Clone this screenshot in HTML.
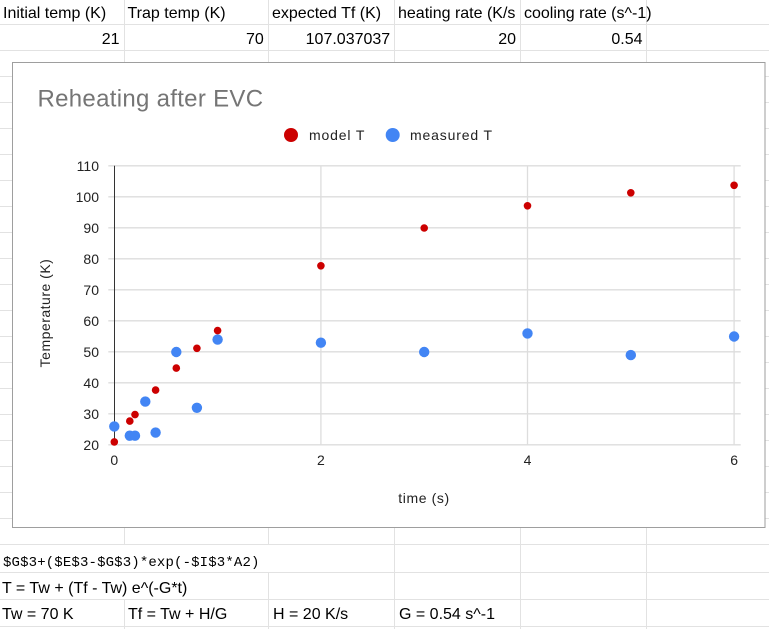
<!DOCTYPE html>
<html>
<head>
<meta charset="utf-8">
<style>
  html, body { margin:0; padding:0; background:#ffffff; }
  body { width:769px; height:629px; overflow:hidden; }
  svg { display:block; }
  .cell { font-family:"Liberation Sans", Arial, sans-serif; font-size:16px; fill:#000; }
  .mono { font-family:"Liberation Mono", monospace; font-size:14px; fill:#000; letter-spacing:0.15px; }
  .tick { font-family:"Liberation Sans", Arial, sans-serif; font-size:14px; fill:#222; }
  .leg { font-family:"Liberation Sans", Arial, sans-serif; font-size:14px; fill:#222; letter-spacing:0.85px; }
</style>
</head>
<body>
<svg width="769" height="629" viewBox="0 0 769 629" xmlns="http://www.w3.org/2000/svg">
  <rect x="0" y="0" width="769" height="629" fill="#ffffff"/>

  <!-- sheet grid: rows -->
  <g stroke="#e2e2e2" stroke-width="1">
    <line x1="0" y1="24.5" x2="769" y2="24.5"/>
    <line x1="0" y1="50.5" x2="769" y2="50.5"/>
    <line x1="0" y1="76.5" x2="769" y2="76.5"/>
    <line x1="0" y1="102.5" x2="769" y2="102.5"/>
    <line x1="0" y1="128.5" x2="769" y2="128.5"/>
    <line x1="0" y1="154.5" x2="769" y2="154.5"/>
    <line x1="0" y1="180.5" x2="769" y2="180.5"/>
    <line x1="0" y1="206.5" x2="769" y2="206.5"/>
    <line x1="0" y1="232.5" x2="769" y2="232.5"/>
    <line x1="0" y1="258.5" x2="769" y2="258.5"/>
    <line x1="0" y1="284.5" x2="769" y2="284.5"/>
    <line x1="0" y1="310.5" x2="769" y2="310.5"/>
    <line x1="0" y1="336.5" x2="769" y2="336.5"/>
    <line x1="0" y1="362.5" x2="769" y2="362.5"/>
    <line x1="0" y1="388.5" x2="769" y2="388.5"/>
    <line x1="0" y1="414.5" x2="769" y2="414.5"/>
    <line x1="0" y1="440.5" x2="769" y2="440.5"/>
    <line x1="0" y1="466.5" x2="769" y2="466.5"/>
    <line x1="0" y1="492.5" x2="769" y2="492.5"/>
    <line x1="0" y1="518.5" x2="769" y2="518.5"/>
    <line x1="0" y1="544.5" x2="769" y2="544.5"/>
    <line x1="0" y1="572.5" x2="769" y2="572.5"/>
    <line x1="0" y1="599.5" x2="769" y2="599.5"/>
    <line x1="0" y1="626.5" x2="769" y2="626.5"/>
  </g>
  <!-- sheet grid: columns -->
  <g stroke="#e2e2e2" stroke-width="1">
    <line x1="124.5" y1="0" x2="124.5" y2="629"/>
    <line x1="268.5" y1="0" x2="268.5" y2="629"/>
    <line x1="394.5" y1="0" x2="394.5" y2="629"/>
    <line x1="520.5" y1="0" x2="520.5" y2="629"/>
    <line x1="646.5" y1="0" x2="646.5" y2="629"/>
  </g>

  <!-- header row -->
  <defs>
    <clipPath id="c4"><rect x="394" y="0" width="126" height="24"/></clipPath>
  </defs>
  <text class="cell" x="3" y="18">Initial temp (K)</text>
  <text class="cell" x="127.5" y="18">Trap temp (K)</text>
  <text class="cell" x="272" y="18">expected Tf (K)</text>
  <text class="cell" x="398" y="18" clip-path="url(#c4)">heating rate (K/s</text>
  <text class="cell" x="524" y="18">cooling rate (s^-1)</text>

  <!-- value row -->
  <text class="cell" x="119.5" y="44" text-anchor="end">21</text>
  <text class="cell" x="263.8" y="44" text-anchor="end">70</text>
  <text class="cell" x="390.2" y="44" text-anchor="end">107.037037</text>
  <text class="cell" x="516" y="44" text-anchor="end">20</text>
  <text class="cell" x="642.5" y="44" text-anchor="end">0.54</text>

  <!-- bottom rows -->
  <rect x="0" y="545" width="394" height="27" fill="#ffffff"/>
  <line x1="394.5" y1="545" x2="394.5" y2="572" stroke="#e2e2e2"/>
  <text class="mono" x="3" y="566">$G$3+($E$3-$G$3)*exp(-$I$3*A2)</text>
  <rect x="0" y="573" width="268" height="26" fill="#ffffff"/>
  <text class="cell" x="2" y="593">T = Tw + (Tf - Tw) e^(-G*t)</text>
  <text class="cell" x="2" y="619">Tw = 70 K</text>
  <text class="cell" x="128" y="619">Tf = Tw + H/G</text>
  <text class="cell" x="273" y="619">H = 20 K/s</text>
  <text class="cell" x="399" y="619">G = 0.54 s^-1</text>

  <!-- chart box -->
  <rect x="12.5" y="62.5" width="752.5" height="465" fill="#ffffff" stroke="#9e9e9e" stroke-width="1"/>

  <!-- title -->
  <text x="37.5" y="106.5" font-family="Liberation Sans, Arial, sans-serif" font-size="24" fill="#757575" letter-spacing="0.3">Reheating after EVC</text>

  <!-- legend -->
  <circle cx="291" cy="135" r="7" fill="#cc0000"/>
  <text class="leg" x="309" y="140">model T</text>
  <circle cx="392.7" cy="135" r="7" fill="#4285f4"/>
  <text class="leg" x="410" y="140">measured T</text>

  <!-- gridlines -->
  <g stroke="#dddddd" stroke-width="1.3">
    <line x1="108.3" y1="165.8" x2="740.7" y2="165.8"/>
    <line x1="108.3" y1="196.8" x2="740.7" y2="196.8"/>
    <line x1="108.3" y1="227.8" x2="740.7" y2="227.8"/>
    <line x1="108.3" y1="258.8" x2="740.7" y2="258.8"/>
    <line x1="108.3" y1="289.8" x2="740.7" y2="289.8"/>
    <line x1="108.3" y1="320.8" x2="740.7" y2="320.8"/>
    <line x1="108.3" y1="351.8" x2="740.7" y2="351.8"/>
    <line x1="108.3" y1="382.8" x2="740.7" y2="382.8"/>
    <line x1="108.3" y1="413.8" x2="740.7" y2="413.8"/>
    <line x1="108.3" y1="444.8" x2="740.7" y2="444.8"/>
    <line x1="320.9" y1="165.8" x2="320.9" y2="444.8"/>
    <line x1="527.5" y1="165.8" x2="527.5" y2="444.8"/>
    <line x1="734.1" y1="165.8" x2="734.1" y2="444.8"/>
  </g>
  <!-- y axis line -->
  <line x1="114.5" y1="165.8" x2="114.5" y2="444.8" stroke="#333333" stroke-width="1"/>

  <!-- y tick labels -->
  <g class="tick" text-anchor="end">
    <text x="99" y="170.8">110</text>
    <text x="99" y="201.8">100</text>
    <text x="99" y="232.8">90</text>
    <text x="99" y="263.8">80</text>
    <text x="99" y="294.8">70</text>
    <text x="99" y="325.8">60</text>
    <text x="99" y="356.8">50</text>
    <text x="99" y="387.8">40</text>
    <text x="99" y="418.8">30</text>
    <text x="99" y="449.8">20</text>
  </g>
  <!-- x tick labels -->
  <g class="tick" text-anchor="middle">
    <text x="114.3" y="465">0</text>
    <text x="320.9" y="465">2</text>
    <text x="527.5" y="465">4</text>
    <text x="734.1" y="465">6</text>
  </g>

  <!-- axis titles -->
  <text class="tick" x="424" y="503" text-anchor="middle" letter-spacing="0.6">time (s)</text>
  <text class="tick" transform="translate(50,313) rotate(-90)" text-anchor="middle" letter-spacing="0.5">Temperature (K)</text>

  <!-- measured T (blue) -->
  <g fill="#4285f4">
    <circle cx="114.3" cy="426.4" r="5.2"/>
    <circle cx="129.8" cy="435.7" r="5.2"/>
    <circle cx="135.0" cy="435.7" r="5.2"/>
    <circle cx="145.3" cy="401.6" r="5.2"/>
    <circle cx="155.6" cy="432.6" r="5.2"/>
    <circle cx="176.3" cy="352.0" r="5.2"/>
    <circle cx="196.9" cy="407.8" r="5.2"/>
    <circle cx="217.6" cy="339.6" r="5.2"/>
    <circle cx="320.9" cy="342.7" r="5.2"/>
    <circle cx="424.2" cy="352.0" r="5.2"/>
    <circle cx="527.5" cy="333.4" r="5.2"/>
    <circle cx="630.8" cy="355.1" r="5.2"/>
    <circle cx="734.1" cy="336.5" r="5.2"/>
  </g>

  <!-- model T (red) -->
  <g fill="#cc0000">
    <circle cx="114.3" cy="441.9" r="3.8"/>
    <circle cx="129.8" cy="421.1" r="3.8"/>
    <circle cx="135.0" cy="414.6" r="3.8"/>
    <circle cx="155.6" cy="390.1" r="3.8"/>
    <circle cx="176.3" cy="368.1" r="3.8"/>
    <circle cx="196.9" cy="348.3" r="3.8"/>
    <circle cx="217.6" cy="330.6" r="3.8"/>
    <circle cx="320.9" cy="265.8" r="3.8"/>
    <circle cx="424.2" cy="228.0" r="3.8"/>
    <circle cx="527.5" cy="205.8" r="3.8"/>
    <circle cx="630.8" cy="192.8" r="3.8"/>
    <circle cx="734.1" cy="185.3" r="3.8"/>
  </g>
</svg>
</body>
</html>
